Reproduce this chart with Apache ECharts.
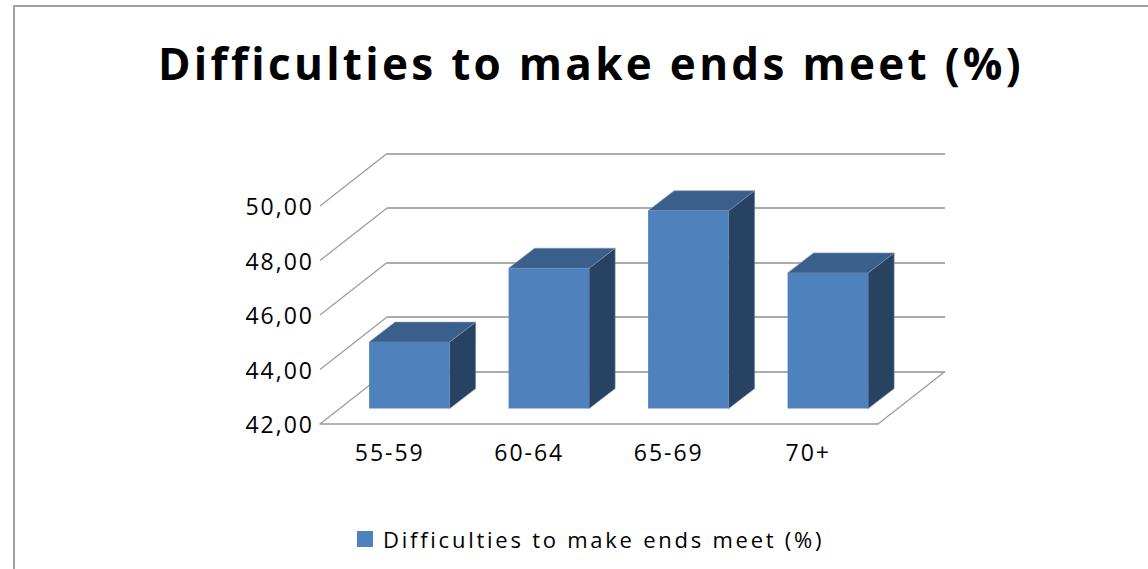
<!DOCTYPE html>
<html>
<head>
<meta charset="utf-8">
<script src="https://cdn.jsdelivr.net/npm/echarts@6/dist/echarts.min.js"></script>
<style>
  html, body { margin: 0; padding: 0; background: #ffffff; }
  #main { width: 1148px; height: 569px; }
  /* the original Excel text is drawn loosely spaced */
  #main text { letter-spacing: 2px; }
  #main text[style*="22px"] { letter-spacing: 2.75px; }
  #main text[style*="bold"] { letter-spacing: 3.3px; }
</style>
</head>
<body>
<div id="main"></div>
<script>
  // data
  const categories = ['55-59', '60-64', '65-69', '70+'];
  const values = [44.44, 47.15, 49.26, 46.98];
  const yTicks = [42, 44, 46, 48, 50];
  const seriesName = 'Difficulties to make ends meet (%)';

  // depth of the 3d box (px) and where the bars sit inside it
  const DEPTH = [67, -52.5];
  const BAR_OFF = [19.6, -15.4];
  const BAR_DEPTH = [26, -20];
  const BAR_W = 0.577;

  const chart = echarts.init(document.getElementById('main'), null, { renderer: 'svg' });

  function sideWalls(params, api) {
    const v = api.value(0);
    const cs = params.coordSys;
    const y = api.coord([0, v])[1];
    const children = [{
      type: 'line',
      shape: { x1: cs.x, y1: y, x2: cs.x + DEPTH[0], y2: y + DEPTH[1] },
      style: { stroke: '#9a9a9a', lineWidth: 1.2 }
    }];
    if (v === yTicks[0]) {
      // floor right edge
      children.push({
        type: 'line',
        shape: { x1: cs.x + cs.width, y1: y, x2: cs.x + cs.width + DEPTH[0], y2: y + DEPTH[1] },
        style: { stroke: '#9a9a9a', lineWidth: 1.2 }
      });
    }
    return { type: 'group', children: children };
  }

  function bar3d(params, api) {
    const i = api.value(0);
    const top = api.coord([i, api.value(1)]);
    const base = api.coord([i, yTicks[0]]);
    const w = api.size([1, 0])[0] * BAR_W;
    const x0 = top[0] - w / 2 + BAR_OFF[0];
    const x1 = x0 + w;
    const yt = top[1] + BAR_OFF[1];
    const yb = base[1] + BAR_OFF[1];
    const dx = BAR_DEPTH[0], dy = BAR_DEPTH[1];
    return {
      type: 'group',
      children: [
        {
          type: 'polygon',
          shape: { points: [[x1, yt], [x1 + dx, yt + dy], [x1 + dx, yb + dy], [x1, yb]] },
          style: { fill: '#284262', stroke: '#6d87a8', lineWidth: 0.6 }
        },
        {
          type: 'polygon',
          shape: { points: [[x0, yt], [x1, yt], [x1 + dx, yt + dy], [x0 + dx, yt + dy]] },
          style: { fill: '#3b5f8b', stroke: '#7d97b8', lineWidth: 0.6 }
        },
        {
          type: 'rect',
          shape: { x: x0, y: yt, width: w, height: yb - yt },
          style: { fill: '#4f81bd' }
        }
      ]
    };
  }

  const labelFont = { fontFamily: 'Open Sans', fontSize: 23, color: '#000000' };

  const option = {
    animation: false,
    backgroundColor: '#ffffff',
    title: {
      text: 'Difficulties to make ends meet (%)',
      left: 153,
      top: 36,
      textStyle: { fontFamily: 'Open Sans', fontWeight: 'bold', fontSize: 44, color: '#000000' }
    },
    graphic: [{
      type: 'rect',
      shape: { x: 14, y: 6, width: 1200, height: 620 },
      style: { fill: null, stroke: '#a0a0a0', lineWidth: 2 },
      silent: true
    }],
    legend: {
      left: 352,
      top: 523,
      icon: 'rect',
      itemWidth: 16,
      itemHeight: 16,
      itemGap: 8,
      textStyle: { fontFamily: 'Open Sans', fontSize: 22, color: '#000000', padding: [0, 0, 0, 5] },
      data: [seriesName]
    },
    grid: [
      { left: 320, top: 206, width: 558, height: 218 },
      { left: 387, top: 153.5, width: 558, height: 218 }
    ],
    xAxis: [
      {
        type: 'category',
        gridIndex: 0,
        data: categories,
        axisTick: { show: false },
        axisLine: { show: true, lineStyle: { color: '#9a9a9a', width: 1.5 } },
        axisLabel: Object.assign({ margin: 16 }, labelFont)
      },
      {
        type: 'category',
        gridIndex: 1,
        data: categories,
        show: false
      }
    ],
    yAxis: [
      {
        type: 'value',
        gridIndex: 0,
        min: 42,
        max: 50,
        interval: 2,
        axisLine: { show: false },
        axisTick: { show: false },
        splitLine: { show: false },
        axisLabel: Object.assign({ margin: 6, formatter: v => v.toFixed(2).replace('.', ',') }, labelFont)
      },
      {
        type: 'value',
        gridIndex: 1,
        min: 42,
        max: 50,
        interval: 2,
        axisLine: { show: false },
        axisTick: { show: false },
        axisLabel: { show: false },
        splitLine: { show: true, lineStyle: { color: '#acacac', width: 2 } }
      }
    ],
    series: [
      {
        type: 'custom',
        xAxisIndex: 0,
        yAxisIndex: 0,
        silent: true,
        renderItem: sideWalls,
        data: yTicks.map(v => [v]),
        z: 1
      },
      {
        name: seriesName,
        type: 'custom',
        xAxisIndex: 0,
        yAxisIndex: 0,
        itemStyle: { color: '#4f81bd' },
        renderItem: bar3d,
        encode: { x: 0, y: 1 },
        data: values.map((v, i) => [i, v]),
        z: 5
      }
    ]
  };

  chart.setOption(option);
</script>
</body>
</html>
